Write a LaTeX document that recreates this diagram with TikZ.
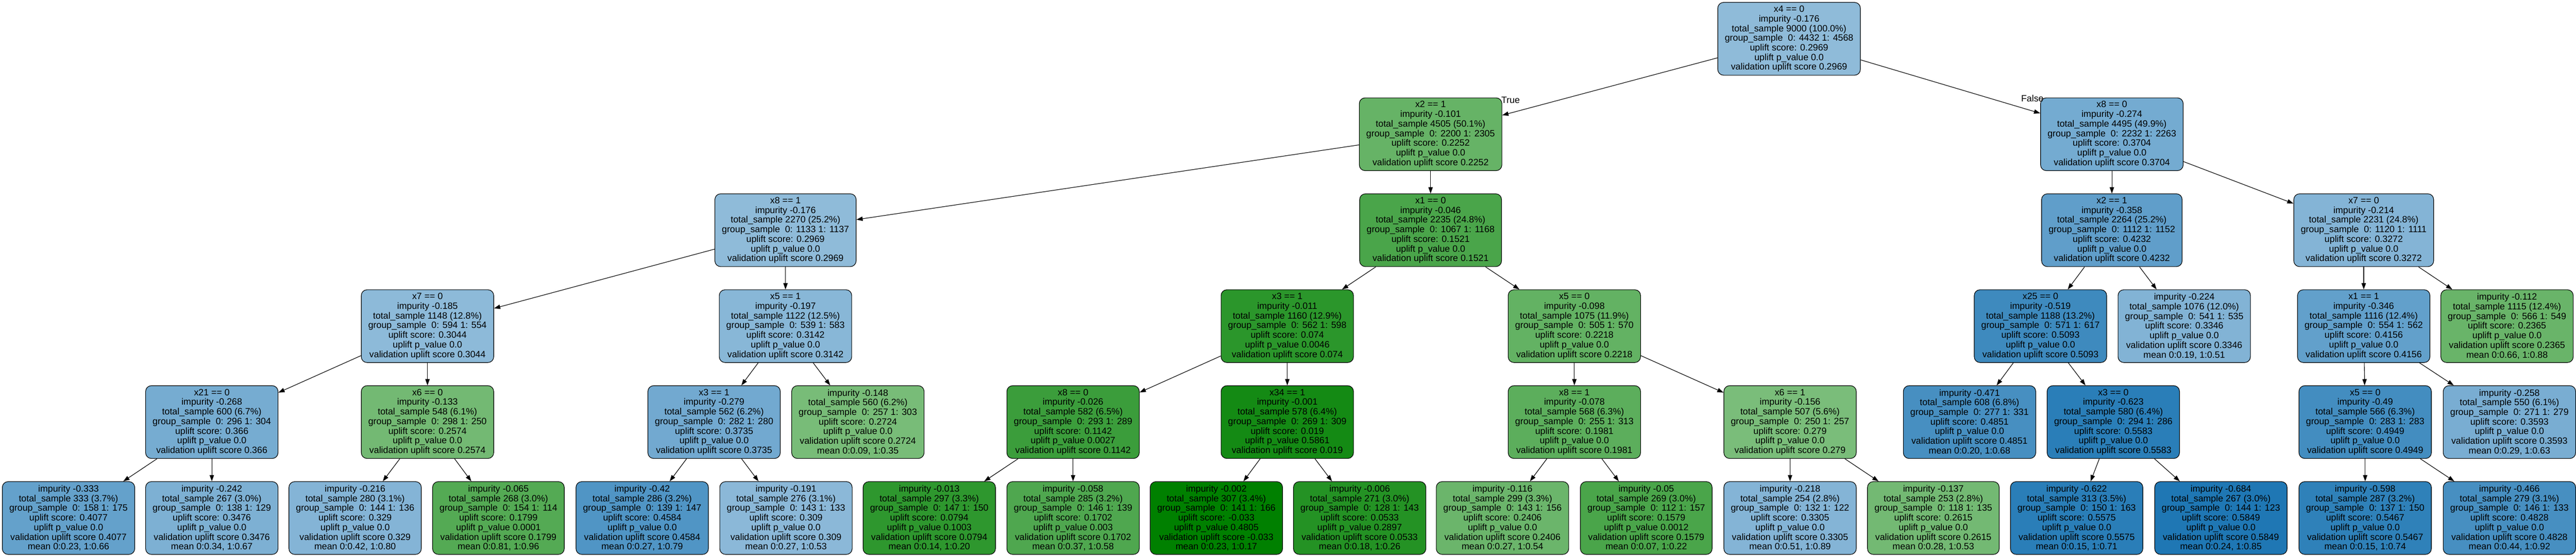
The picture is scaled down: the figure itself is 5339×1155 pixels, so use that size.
\documentclass[tikz,border=0pt]{standalone}
\usepackage{fontspec}
\setmainfont{Liberation Sans}
\usetikzlibrary{arrows.meta}

\definecolor{upblue}{HTML}{1F77B4}
\definecolor{upgreen}{HTML}{008000}

\tikzset{
  upfill/.code={%
    \pgfmathsetmacro\updiff{#1-0.2969}%
    \ifdim\updiff pt<0pt
      \pgfmathtruncatemacro\uppct{50-50*\updiff/0.3299}%
      \colorlet{upcol}{upgreen!\uppct!white}%
    \else
      \pgfmathtruncatemacro\uppct{50+50*\updiff/0.288}%
      \colorlet{upcol}{upblue!\uppct!white}%
    \fi
    \pgfkeysalso{fill=upcol}},
  treebox/.style={draw=black, line width=1.2pt, rounded corners=12pt,
    align=center, inner xsep=14.5pt, inner ysep=4pt, minimum height=151pt,
    font=\fontsize{19}{20}\selectfont},
  treeedge/.style={draw, line width=1.2pt, -{Triangle[length=13pt,width=9pt]}},
  edgelab/.style={inner sep=0pt, font=\fontsize{19}{20}\selectfont}
}

% name, x, y, split, impurity, total, groups, score, p-value
\newcommand\splitnode[9]{\node[treebox, upfill=#8] (#1) at (#2,#3)
  {#4\\impurity #5\\total\_sample #6\\group\_sample\ \ #7\\uplift score: #8\\uplift p\_value #9\\validation uplift score #8};}
% name, x, y, impurity, total, groups, score, p-value, mean
\newcommand\leafnode[9]{\node[treebox, upfill=#7] (#1) at (#2,#3)
  {impurity #4\\total\_sample #5\\group\_sample\ \ #6\\uplift score: #7\\uplift p\_value #8\\validation uplift score #7\\mean #9};}

\begin{document}
\begin{tikzpicture}[x=1pt, y=-1pt]
  \useasboundingbox (0,0) rectangle (5339,1155);

  % level 0 and 1
  \splitnode{r}{3708}{80.5}{x4 == 0}{-0.176}{9000 (100.0\%)}{0: 4432 1: 4568}{0.2969}{0.0}
  \splitnode{rt}{2965}{278.5}{x2 == 1}{-0.101}{4505 (50.1\%)}{0: 2200 1: 2305}{0.2252}{0.0}
  \splitnode{rf}{4377}{278.5}{x8 == 0}{-0.274}{4495 (49.9\%)}{0: 2232 1: 2263}{0.3704}{0.0}

  % level 2
  \splitnode{rtt}{1628}{477.5}{x8 == 1}{-0.176}{2270 (25.2\%)}{0: 1133 1: 1137}{0.2969}{0.0}
  \splitnode{rtf}{2965}{477.5}{x1 == 0}{-0.046}{2235 (24.8\%)}{0: 1067 1: 1168}{0.1521}{0.0}
  \splitnode{rft}{4377}{477.5}{x2 == 1}{-0.358}{2264 (25.2\%)}{0: 1112 1: 1152}{0.4232}{0.0}
  \splitnode{rff}{4899}{477.5}{x7 == 0}{-0.214}{2231 (24.8\%)}{0: 1120 1: 1111}{0.3272}{0.0}

  % level 3
  \splitnode{rttt}{886}{676.5}{x7 == 0}{-0.185}{1148 (12.8\%)}{0: 594 1: 554}{0.3044}{0.0}
  \splitnode{rttf}{1628}{676.5}{x5 == 1}{-0.197}{1122 (12.5\%)}{0: 539 1: 583}{0.3142}{0.0}
  \splitnode{rtft}{2668}{676.5}{x3 == 1}{-0.011}{1160 (12.9\%)}{0: 562 1: 598}{0.074}{0.0046}
  \splitnode{rtff}{3263}{676.5}{x5 == 0}{-0.098}{1075 (11.9\%)}{0: 505 1: 570}{0.2218}{0.0}
  \splitnode{rftt}{4229}{676.5}{x25 == 0}{-0.519}{1188 (13.2\%)}{0: 571 1: 617}{0.5093}{0.0}
  \leafnode{rftf}{4527}{676.5}{-0.224}{1076 (12.0\%)}{0: 541 1: 535}{0.3346}{0.0}{0:0.19, 1:0.51}
  \splitnode{rfft}{4899}{676.5}{x1 == 1}{-0.346}{1116 (12.4\%)}{0: 554 1: 562}{0.4156}{0.0}
  \leafnode{rfff}{5196}{676.5}{-0.112}{1115 (12.4\%)}{0: 566 1: 549}{0.2365}{0.0}{0:0.66, 1:0.88}

  % level 4
  \splitnode{rtttt}{439}{875.5}{x21 == 0}{-0.268}{600 (6.7\%)}{0: 296 1: 304}{0.366}{0.0}
  \splitnode{rtttf}{886}{875.5}{x6 == 0}{-0.133}{548 (6.1\%)}{0: 298 1: 250}{0.2574}{0.0}
  \splitnode{rttft}{1480}{875.5}{x3 == 1}{-0.279}{562 (6.2\%)}{0: 282 1: 280}{0.3735}{0.0}
  \leafnode{rttff}{1778}{875.5}{-0.148}{560 (6.2\%)}{0: 257 1: 303}{0.2724}{0.0}{0:0.09, 1:0.35}
  \splitnode{rtftt}{2224}{875.5}{x8 == 0}{-0.026}{582 (6.5\%)}{0: 293 1: 289}{0.1142}{0.0027}
  \splitnode{rtftf}{2668}{875.5}{x34 == 1}{-0.001}{578 (6.4\%)}{0: 269 1: 309}{0.019}{0.5861}
  \splitnode{rtfft}{3263}{875.5}{x8 == 1}{-0.078}{568 (6.3\%)}{0: 255 1: 313}{0.1981}{0.0}
  \splitnode{rtfff}{3710}{875.5}{x6 == 1}{-0.156}{507 (5.6\%)}{0: 250 1: 257}{0.279}{0.0}
  \leafnode{rfttt}{4082}{875.5}{-0.471}{608 (6.8\%)}{0: 277 1: 331}{0.4851}{0.0}{0:0.20, 1:0.68}
  \splitnode{rfttf}{4380}{875.5}{x3 == 0}{-0.623}{580 (6.4\%)}{0: 294 1: 286}{0.5583}{0.0}
  \splitnode{rfftt}{4902}{875.5}{x5 == 0}{-0.49}{566 (6.3\%)}{0: 283 1: 283}{0.4949}{0.0}
  \leafnode{rfftf}{5201}{875.5}{-0.258}{550 (6.1\%)}{0: 271 1: 279}{0.3593}{0.0}{0:0.29, 1:0.63}

  % level 5, all leaves
  \leafnode{rttttt}{142}{1074.5}{-0.333}{333 (3.7\%)}{0: 158 1: 175}{0.4077}{0.0}{0:0.23, 1:0.66}
  \leafnode{rttttf}{439}{1074.5}{-0.242}{267 (3.0\%)}{0: 138 1: 129}{0.3476}{0.0}{0:0.34, 1:0.67}
  \leafnode{rtttft}{736}{1074.5}{-0.216}{280 (3.1\%)}{0: 144 1: 136}{0.329}{0.0}{0:0.42, 1:0.80}
  \leafnode{rtttff}{1033}{1074.5}{-0.065}{268 (3.0\%)}{0: 154 1: 114}{0.1799}{0.0001}{0:0.81, 1:0.96}
  \leafnode{rttftt}{1331}{1074.5}{-0.42}{286 (3.2\%)}{0: 139 1: 147}{0.4584}{0.0}{0:0.27, 1:0.79}
  \leafnode{rttftf}{1629}{1074.5}{-0.191}{276 (3.1\%)}{0: 143 1: 133}{0.309}{0.0}{0:0.27, 1:0.53}
  \leafnode{rtfttt}{1926}{1074.5}{-0.013}{297 (3.3\%)}{0: 147 1: 150}{0.0794}{0.1003}{0:0.14, 1:0.20}
  \leafnode{rtfttf}{2224}{1074.5}{-0.058}{285 (3.2\%)}{0: 146 1: 139}{0.1702}{0.003}{0:0.37, 1:0.58}
  \leafnode{rtftft}{2521}{1074.5}{-0.002}{307 (3.4\%)}{0: 141 1: 166}{-0.033}{0.4805}{0:0.23, 1:0.17}
  \leafnode{rtftff}{2818}{1074.5}{-0.006}{271 (3.0\%)}{0: 128 1: 143}{0.0533}{0.2897}{0:0.18, 1:0.26}
  \leafnode{rtfftt}{3114}{1074.5}{-0.116}{299 (3.3\%)}{0: 143 1: 156}{0.2406}{0.0}{0:0.27, 1:0.54}
  \leafnode{rtfftf}{3412}{1074.5}{-0.05}{269 (3.0\%)}{0: 112 1: 157}{0.1579}{0.0012}{0:0.07, 1:0.22}
  \leafnode{rtffft}{3710}{1074.5}{-0.218}{254 (2.8\%)}{0: 132 1: 122}{0.3305}{0.0}{0:0.51, 1:0.89}
  \leafnode{rtffff}{4007}{1074.5}{-0.137}{253 (2.8\%)}{0: 118 1: 135}{0.2615}{0.0}{0:0.28, 1:0.53}
  \leafnode{rfttft}{4304}{1074.5}{-0.622}{313 (3.5\%)}{0: 150 1: 163}{0.5575}{0.0}{0:0.15, 1:0.71}
  \leafnode{rfttff}{4603}{1074.5}{-0.684}{267 (3.0\%)}{0: 144 1: 123}{0.5849}{0.0}{0:0.24, 1:0.85}
  \leafnode{rffttt}{4902}{1074.5}{-0.598}{287 (3.2\%)}{0: 137 1: 150}{0.5467}{0.0}{0:0.15, 1:0.74}
  \leafnode{rffttf}{5201}{1074.5}{-0.466}{279 (3.1\%)}{0: 146 1: 133}{0.4828}{0.0}{0:0.44, 1:0.92}

  % connectors: every split node has a true (t) and a false (f) child
  \draw[treeedge] (r) -- (rt);
  \draw[treeedge] (r) -- (rf);
  \foreach \p in {rt, rf, rtt, rtf, rft, rff, rttt, rttf, rtft, rtff, rftt, rfft,
                  rtttt, rtttf, rttft, rtftt, rtftf, rtfft, rtfff, rfttf, rfftt} {
    \draw[treeedge] (\p) -- (\p t);
    \draw[treeedge] (\p) -- (\p f);
  }

  \node[edgelab, anchor=west] (truelab) at ([xshift=-2pt, yshift=-5pt]rt.north east) {True};
  \node[edgelab, anchor=east] (falselab) at ([xshift=7pt, yshift=-2pt]rf.north west) {False};
\end{tikzpicture}
\end{document}
